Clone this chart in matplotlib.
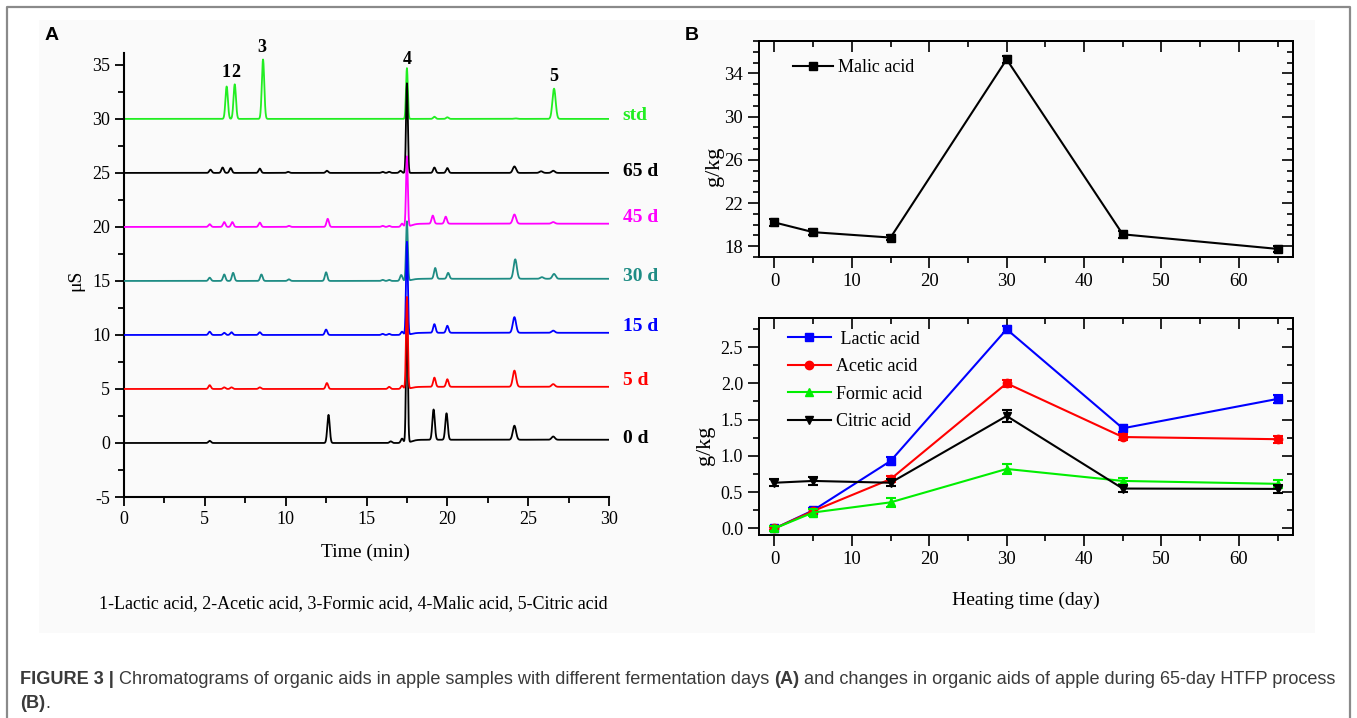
import numpy as np
import matplotlib
matplotlib.use("Agg")
import matplotlib.pyplot as plt
from matplotlib.patches import Rectangle
from matplotlib.ticker import MultipleLocator, FormatStrFormatter


# ---- Panel A: chromatogram peak tables (retention time in min, height above baseline in uS)
TRACE_NAMES = ["0 d", "5 d", "15 d", "30 d", "45 d", "65 d", "std"]
BASE_START = [0.0, 5.0, 10.0, 15.0, 20.0, 25.0, 30.0]
BASE_END = [0.3, 5.2, 10.2, 15.2, 20.3, 25.0, 30.0]

PEAKS_0D_T = [5.3, 12.65, 16.5, 17.2, 17.5, 19.15, 19.95, 24.15, 26.55]
PEAKS_0D_H = [0.2, 2.6, 0.15, 0.4, 12.0, 2.8, 2.45, 1.3, 0.3]

PEAKS_5D_T = [5.3, 6.2, 6.65, 8.4, 12.55, 16.4, 17.2, 17.5, 19.2, 20.0, 24.15, 26.55]
PEAKS_5D_H = [0.35, 0.15, 0.15, 0.15, 0.55, 0.2, 0.3, 8.5, 0.85, 0.7, 1.5, 0.25]

PEAKS_15D_T = [5.3, 6.2, 6.65, 8.4, 12.5, 16.0, 16.4, 17.2, 17.5, 19.2, 20.0, 24.15, 26.55]
PEAKS_15D_H = [0.3, 0.2, 0.25, 0.25, 0.5, 0.1, 0.1, 0.3, 8.6, 0.8, 0.65, 1.45, 0.2]

PEAKS_30D_T = [5.3, 6.2, 6.75, 8.5, 10.2, 12.5, 16.0, 16.4, 17.15, 17.5, 19.25, 20.05, 24.2, 25.85, 26.6]
PEAKS_30D_H = [0.3, 0.6, 0.75, 0.6, 0.15, 0.8, 0.1, 0.1, 0.55, 5.5, 1.0, 0.55, 1.8, 0.15, 0.45]

PEAKS_45D_T = [5.3, 6.2, 6.7, 8.4, 10.2, 12.6, 16.0, 16.4, 17.2, 17.5, 19.1, 19.9, 24.15, 26.55]
PEAKS_45D_H = [0.25, 0.45, 0.45, 0.4, 0.1, 0.75, 0.1, 0.1, 0.3, 6.5, 0.75, 0.65, 0.85, 0.15]

PEAKS_65D_T = [5.35, 6.1, 6.6, 8.4, 10.15, 12.55, 16.0, 16.4, 17.1, 17.5, 19.2, 20.0, 24.15, 25.8, 26.55]
PEAKS_65D_H = [0.3, 0.5, 0.45, 0.4, 0.1, 0.2, 0.1, 0.1, 0.2, 8.3, 0.5, 0.45, 0.6, 0.15, 0.2]

PEAKS_STD_T = [6.35, 6.85, 8.6, 17.5, 19.2, 20.0, 24.2, 26.6]
PEAKS_STD_H = [3.0, 3.2, 5.5, 4.7, 0.2, 0.15, 0.05, 2.8]

PEAK_NUMBERS = ["1", "2", "3", "4", "5"]
PEAK_NUMBER_T = [6.3, 6.9, 8.55, 17.5, 26.55]

# ---- Panel B: organic acids vs heating time
DAYS = [0, 5, 15, 30, 45, 65]
MALIC = [20.2, 19.3, 18.8, 35.3, 19.1, 17.75]
MALIC_ERR = [0.35, 0.3, 0.25, 0.3, 0.3, 0.3]
LACTIC = [0.0, 0.25, 0.93, 2.745, 1.38, 1.785]
LACTIC_ERR = [0.02, 0.03, 0.05, 0.05, 0.05, 0.06]
ACETIC = [0.0, 0.24, 0.68, 2.0, 1.26, 1.23]
ACETIC_ERR = [0.02, 0.03, 0.04, 0.05, 0.04, 0.05]
FORMIC = [0.0, 0.22, 0.36, 0.82, 0.655, 0.615]
FORMIC_ERR = [0.03, 0.05, 0.06, 0.07, 0.04, 0.05]
CITRIC = [0.63, 0.655, 0.63, 1.55, 0.55, 0.545]
CITRIC_ERR = [0.05, 0.05, 0.05, 0.08, 0.05, 0.05]

CAPTION_LINE1 = [
    ("FIGURE 3 |", "bold"),
    (" Chromatograms of organic aids in apple samples with different fermentation days ", "normal"),
    ("(A)", "bold"),
    (" and changes in organic aids of apple during 65-day HTFP process", "normal"),
]
CAPTION_LINE2 = [("(B)", "bold"), (".", "normal")]

SERIF = ["Liberation Serif", "DejaVu Serif"]
SANS = ["Liberation Sans", "DejaVu Sans"]

W, H = 1357, 718

plt.rcParams["axes.unicode_minus"] = False


def px_rect(left, top, right, bottom):
    return [left / W, (H - bottom) / H, (right - left) / W, (bottom - top) / H]


def build_trace(time, base_start, base_end, peak_t, peak_h):
    step = 0.5 * (1 + np.tanh((time - 17.8) / 0.3))
    y = base_start + (base_end - base_start) * step
    for t, h in zip(peak_t, peak_h):
        sigma = 0.055 if abs(t - 17.5) < 0.01 else (0.1 if t > 24 else 0.075)
        y = y + h * np.exp(-0.5 * ((time - t) / sigma) ** 2)
    return y


def style_box_axes(ax):
    for sp in ax.spines.values():
        sp.set_linewidth(1.4)
    ax.tick_params(which="both", direction="out", width=1.2, labelsize=13.5)
    ax.tick_params(which="major", length=8)
    ax.tick_params(which="minor", length=4.5)
    for lab in ax.get_xticklabels() + ax.get_yticklabels():
        lab.set_family(SERIF)
    top = ax.secondary_xaxis("top")
    top.xaxis.set_major_locator(ax.xaxis.get_major_locator())
    top.xaxis.set_minor_locator(ax.xaxis.get_minor_locator())
    top.tick_params(which="both", direction="in", width=1.2, labeltop=False)
    top.tick_params(which="major", length=8)
    top.tick_params(which="minor", length=4.5)
    right = ax.secondary_yaxis("right")
    right.yaxis.set_major_locator(ax.yaxis.get_major_locator())
    right.yaxis.set_minor_locator(ax.yaxis.get_minor_locator())
    right.tick_params(which="both", direction="in", width=1.2, labelright=False)
    right.tick_params(which="major", length=8)
    right.tick_params(which="minor", length=4.5)
    for sp in list(top.spines.values()) + list(right.spines.values()):
        sp.set_linewidth(1.4)


fig = plt.figure(figsize=(W / 100, H / 100), dpi=100)
fig.patch.set_facecolor("white")

# background overlay: faint panel area and outer frame
bg = fig.add_axes([0, 0, 1, 1], zorder=-5)
bg.set_xlim(0, W)
bg.set_ylim(H, 0)
bg.axis("off")
bg.add_patch(Rectangle((39, 20), 1276, 613, facecolor="#fafafa", edgecolor="none"))
bg.plot([7, 7, 1350, 1350], [H + 5, 7, 7, H + 5], color="#8a8a8a", lw=1.6)

# ---- Panel A
axA = fig.add_axes(px_rect(124, 53, 609, 497))
axA.set_facecolor("none")
time = np.linspace(0, 30, 3001)
traces = {
    "0 d": (PEAKS_0D_T, PEAKS_0D_H, "#000000", 6, 0.4),
    "5 d": (PEAKS_5D_T, PEAKS_5D_H, "#ff0000", 7, 5.8),
    "15 d": (PEAKS_15D_T, PEAKS_15D_H, "#0000ff", 5, 10.8),
    "30 d": (PEAKS_30D_T, PEAKS_30D_H, "#1e8c84", 3, 15.4),
    "45 d": (PEAKS_45D_T, PEAKS_45D_H, "#ff00ff", 4, 20.9),
    "65 d": (PEAKS_65D_T, PEAKS_65D_H, "#000000", 2, 25.1),
    "std": (PEAKS_STD_T, PEAKS_STD_H, "#22ee22", 1, 30.3),
}
for name, b0, b1 in zip(TRACE_NAMES, BASE_START, BASE_END):
    pt, ph, color, z, label_y = traces[name]
    y = build_trace(time, b0, b1, pt, ph)
    axA.plot(time, y, color=color, lw=1.3, zorder=z)
    axA.text(30.85, label_y, name, color=color, fontsize=14, fontweight="bold",
             family=SERIF, ha="left", va="center", clip_on=False)

number_y = [34.3, 34.3, 36.6, 35.5, 33.9]
for lab, t, ny in zip(PEAK_NUMBERS, PEAK_NUMBER_T, number_y):
    axA.text(t, ny, lab, fontsize=13, fontweight="bold", family=SERIF,
             ha="center", va="center", clip_on=False)

axA.set_xlim(0, 30)
axA.set_ylim(-5, 36.1)
axA.xaxis.set_major_locator(MultipleLocator(5))
axA.xaxis.set_minor_locator(MultipleLocator(2.5))
axA.yaxis.set_major_locator(MultipleLocator(5))
axA.yaxis.set_minor_locator(MultipleLocator(2.5))
axA.spines["top"].set_visible(False)
axA.spines["right"].set_visible(False)
for sp in ("left", "bottom"):
    axA.spines[sp].set_linewidth(1.5)
axA.tick_params(which="both", direction="out", width=1.3, labelsize=13)
axA.tick_params(which="major", length=6.5)
axA.tick_params(which="minor", length=4)
for lab in axA.get_xticklabels() + axA.get_yticklabels():
    lab.set_family(SERIF)
axA.text(-0.1, 0.489, "\u03bcS", transform=axA.transAxes, rotation=90,
         fontsize=14, family=SERIF, ha="center", va="center")
axA.text(0.497, -0.124, "Time (min)", transform=axA.transAxes,
         fontsize=14, family=SERIF, ha="center", va="center")
axA.text(0.472, -0.241,
         "1-Lactic acid, 2-Acetic acid, 3-Formic acid, 4-Malic acid, 5-Citric acid",
         transform=axA.transAxes, fontsize=13, family=SERIF, ha="center", va="center")

# ---- Panel B top: malic acid
axB1 = fig.add_axes(px_rect(759, 41, 1293, 257))
axB1.set_facecolor("none")
axB1.errorbar(DAYS, MALIC, yerr=MALIC_ERR, fmt="none", ecolor="black",
              elinewidth=1.5, capsize=3.5, capthick=1.5)
l_malic, = axB1.plot(DAYS, MALIC, color="black", lw=1.5, marker="s", markersize=6)
axB1.set_xlim(-2, 67)
axB1.set_ylim(17, 37)
axB1.xaxis.set_major_locator(MultipleLocator(10))
axB1.xaxis.set_minor_locator(MultipleLocator(5))
axB1.yaxis.set_major_locator(MultipleLocator(4))
axB1.yaxis.set_minor_locator(MultipleLocator(1))
axB1.set_yticks([18, 22, 26, 30, 34])
style_box_axes(axB1)
axB1.legend([l_malic], ["Malic acid"], loc="upper left", bbox_to_anchor=(0.05, 0.95),
            frameon=False, borderaxespad=0, handlelength=2.2, handletextpad=0.3,
            prop={"family": SERIF, "size": 13})
axB1.text(-0.083, 0.42, "g/kg", transform=axB1.transAxes, rotation=90,
          fontsize=16, family=SERIF, ha="center", va="center")

# ---- Panel B bottom: other acids
axB2 = fig.add_axes(px_rect(759, 318, 1293, 535))
axB2.set_facecolor("none")
series = [
    (" Lactic acid", LACTIC, LACTIC_ERR, "#0000ff", "s"),
    ("Acetic acid", ACETIC, ACETIC_ERR, "#ff0000", "o"),
    ("Formic acid", FORMIC, FORMIC_ERR, "#00ee00", "^"),
    ("Citric acid", CITRIC, CITRIC_ERR, "#000000", "v"),
]
handles = []
for label, vals, err, color, mk in series:
    axB2.errorbar(DAYS, vals, yerr=err, fmt="none", ecolor=color,
                  elinewidth=1.5, capsize=3.5, capthick=1.5)
    h, = axB2.plot(DAYS, vals, color=color, lw=1.5, marker=mk, markersize=6)
    handles.append(h)
axB2.set_xlim(-2, 67)
axB2.set_ylim(-0.09, 2.9)
axB2.xaxis.set_major_locator(MultipleLocator(10))
axB2.xaxis.set_minor_locator(MultipleLocator(5))
axB2.yaxis.set_major_locator(MultipleLocator(0.5))
axB2.yaxis.set_minor_locator(MultipleLocator(0.25))
axB2.yaxis.set_major_formatter(FormatStrFormatter("%.1f"))
style_box_axes(axB2)
axB2.tick_params(axis="y", labelsize=13)
axB2.legend(handles, [s[0] for s in series], loc="upper left",
            bbox_to_anchor=(0.04, 0.975), frameon=False, borderaxespad=0,
            handlelength=2.4, handletextpad=0.3, labelspacing=0.58,
            prop={"family": SERIF, "size": 13})
axB2.text(-0.1, 0.415, "g/kg", transform=axB2.transAxes, rotation=90,
          fontsize=16, family=SERIF, ha="center", va="center")
axB2.text(0.5, -0.3, "Heating time (day)", transform=axB2.transAxes,
          fontsize=14, family=SERIF, ha="center", va="center")

# ---- panel letters
bg.text(52, 35, "A", fontsize=14, fontweight="bold", family=SANS, ha="center", va="center")
bg.text(692, 35, "B", fontsize=14, fontweight="bold", family=SANS, ha="center", va="center")


# ---- caption with mixed weights
def caption_line(pieces, x, y):
    prev = bg.text(x, y, pieces[0][0], fontsize=13.1, fontweight=pieces[0][1],
                   family=SANS, color="#3a3a3a", ha="left", va="bottom")
    for text, weight in pieces[1:]:
        prev = bg.annotate(text, xy=(1, 0), xycoords=prev, fontsize=13.1,
                           fontweight=weight, family=SANS, color="#3a3a3a",
                           ha="left", va="bottom")


caption_line(CAPTION_LINE1, 20, 688)
caption_line(CAPTION_LINE2, 20, 712)

fig.savefig("out.png", dpi=100)
